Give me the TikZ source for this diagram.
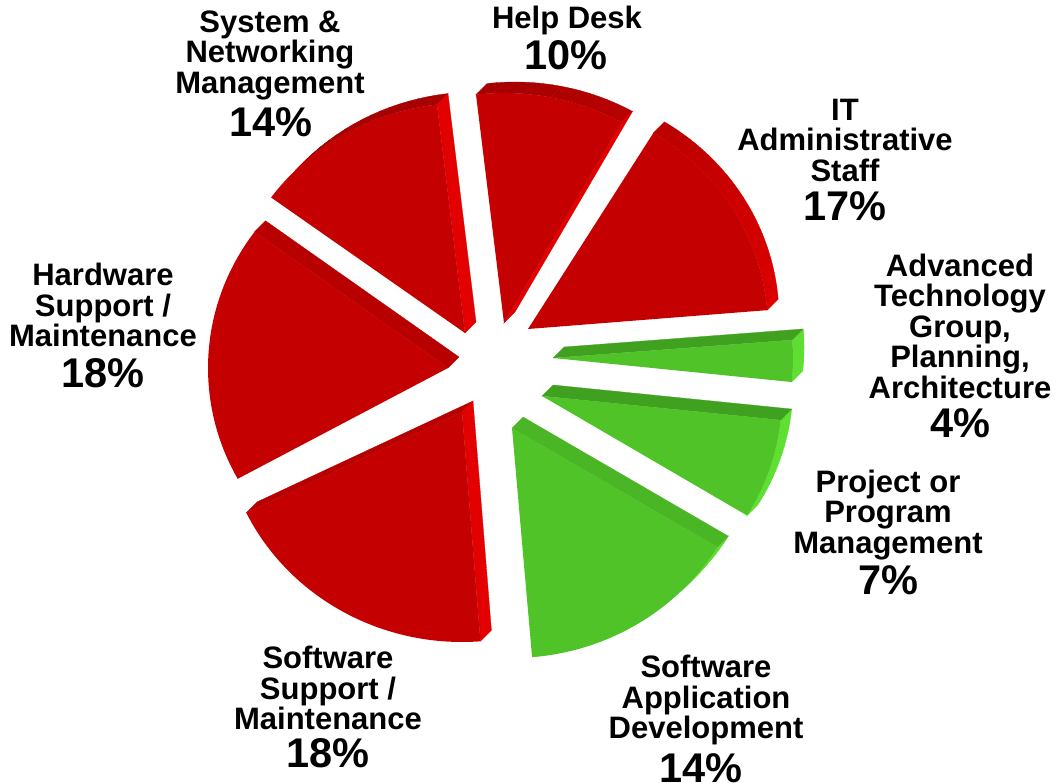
\documentclass[tikz,border=0pt]{standalone}
\usepackage{fontspec}
\setmainfont{Liberation Sans}
\usetikzlibrary{calc}
\definecolor{rface}{RGB}{196,0,0}
\definecolor{rbright}{RGB}{226,0,0}
\definecolor{rdark}{RGB}{166,0,0}
\definecolor{gface}{RGB}{80,195,40}
\definecolor{gbright}{RGB}{94,224,48}
\definecolor{gdark}{RGB}{64,160,32}
% front face: tip x, tip y (pixels, downwards), start angle, end angle, colour
\newcommand\pieface[5]{%
  \fill[#5] (#1,-#2) -- ++({240*cos(#3)},{230*sin(#3)})
    arc[start angle=#3, end angle=#4, x radius=240, y radius=230] -- cycle;}
% radial side wall: tip x, tip y, angle, colour
\newcommand\radwall[4]{%
  \fill[#4,draw=#4,line width=0.3pt] (#1,-#2) -- ++({240*cos(#3)},{230*sin(#3)}) -- ++(11,11)
    -- ++({-240*cos(#3)},{-230*sin(#3)}) -- cycle;}
% outer side wall: tip x, tip y, from, to, bright colour, dark colour
\newcommand\arcwall[6]{%
  \foreach \k in {0,...,15}{%
    \pgfmathsetmacro\ta{#3+(#4-#3)*\k/16}%
    \pgfmathsetmacro\tb{#3+(#4-#3)*(\k+1)/16}%
    \pgfmathsetmacro\tm{(\ta+\tb)/2}%
    \pgfmathtruncatemacro\mx{max(0,min(100,100-100*\tm/90))}%
    \colorlet{wc}{#5!\mx!#6}%
    \fill[wc,draw=wc,line width=0.3pt] (#1,-#2) ++({240*cos(\ta)},{230*sin(\ta)})
      arc[start angle=\ta, end angle=\tb, x radius=240, y radius=230] -- ++(11,11)
      arc[start angle=\tb, end angle=\ta, x radius=240, y radius=230] -- cycle;
  }}
\tikzset{
  lab/.style={font={\fontsize{31}{30.5}\selectfont\bfseries}, align=center, inner sep=0pt},
  pct/.style={font={\fontsize{41.5}{41.5}\selectfont\bfseries}, inner sep=0pt}
}
\begin{document}
\begin{tikzpicture}[x=1pt,y=1pt]
\useasboundingbox (0,0) rectangle (1056,-783);
\fill[white] (0,0) rectangle (1056,-783);
% Help Desk
\arcwall{504}{323}{60.7}{96.7}{rbright}{rdark}
\radwall{504}{323}{60.7}{rbright}
\pieface{504}{323}{60.7}{96.7}{rface}
% IT Administrative Staff
\arcwall{528}{329}{4.7}{58.5}{rbright}{rdark}
\pieface{528}{329}{4.7}{58.5}{rface}
% Advanced Technology Group
\arcwall{553}{358}{-6}{4.5}{gbright}{gdark}
\radwall{553}{358}{4.5}{gdark}
\pieface{553}{358}{-6}{4.5}{gface}
% Project or Program Management
\arcwall{542}{396}{-31.3}{-6}{gbright}{gdark}
\radwall{542}{396}{-6}{gdark}
\pieface{542}{396}{-31.3}{-6}{gface}
% Software Application Development
\arcwall{512}{428}{-45}{-31.2}{gbright}{gdark}
\radwall{512}{428}{-31.2}{gdark!40!gface}
\pieface{512}{428}{-85.2}{-31.2}{gface}
% Software Support / Maintenance
\radwall{462}{412}{-154}{rdark!45!rface}
\radwall{462}{412}{-85.6}{rbright}
\pieface{462}{412}{-154}{-85.6}{rface}
% Hardware Support / Maintenance
\radwall{448}{368}{143.7}{rdark!35!rface}
\pieface{448}{368}{143.7}{208.8}{rface}
% System & Networking Management
\arcwall{465}{333}{96.7}{135}{rbright}{rdark}
\radwall{465}{333}{96.7}{rbright}
\pieface{465}{333}{96.7}{143.9}{rface}
% labels
\node[lab] (snm) at (270,-55) {System \&\\Networking\\Management};
\node[pct] (snmp) at (271,-122) {14\%};
\node[lab] (hd) at (567,-20) {Help Desk};
\node[pct] (hdp) at (566,-55) {10\%};
\node[lab] (it) at (845,-140) {IT\\Administrative\\Staff};
\node[pct] (itp) at (845,-206) {17\%};
\node[lab] (atg) at (960,-326) {Advanced\\Technology\\Group,\\Planning,\\Architecture};
\node[pct] (atgp) at (960,-423) {4\%};
\node[lab] (ppm) at (888,-515) {Project or\\Program\\Management};
\node[pct] (ppmp) at (888,-580) {7\%};
\node[lab] (sad) at (706,-700) {Software\\Application\\Development};
\node[pct] (sadp) at (701,-768) {14\%};
\node[lab] (ssm) at (328,-688) {Software\\Support /\\Maintenance};
\node[pct] (ssmp) at (328,-753) {18\%};
\node[lab] (hsm) at (103,-305) {Hardware\\Support /\\Maintenance};
\node[pct] (hsmp) at (103,-373) {18\%};
\end{tikzpicture}
\end{document}
